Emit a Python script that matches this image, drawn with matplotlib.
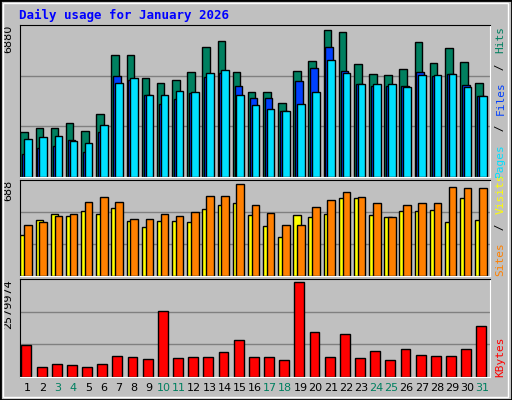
import matplotlib
matplotlib.use("Agg")
import matplotlib.pyplot as plt
from matplotlib.patches import Rectangle
import numpy as np

days = list(range(1, 32))
weekend = [3, 4, 10, 11, 17, 18, 24, 25, 31]

hits = [2050, 2232, 2232, 2460, 2096, 2870, 5513, 5513, 4465, 4237, 4374, 4738, 5877, 6151, 4738, 3827,
        3827, 3371, 4784, 5239, 6652, 6561, 5103, 4647, 4601, 4875, 6105, 5148, 5832, 5194, 4237]
files = [1048, 1321, 1412, 1686, 1139, 2050, 4556, 4374, 3690, 3326, 3508, 3781, 4510, 4693, 4100, 3554,
         3554, 3007, 4328, 4920, 5877, 4784, 4191, 4100, 4100, 4100, 4738, 4556, 4647, 4146, 3645]
pages = [1731, 1822, 1868, 1640, 1549, 2369, 4237, 4465, 3690, 3690, 3873, 3827, 4693, 4829, 3690, 3280,
         3098, 3007, 3326, 3827, 5285, 4693, 4191, 4191, 4191, 4055, 4601, 4601, 4647, 4055, 3645]
sites = [294, 401, 444, 430, 466, 444, 487, 394, 351, 394, 394, 387, 480, 509, 523, 437,
         358, 280, 437, 423, 444, 559, 559, 437, 423, 466, 466, 473, 387, 559, 401]
visits = [366, 387, 430, 444, 530, 566, 530, 409, 409, 444, 430, 459, 573, 573, 659, 509,
          452, 366, 366, 495, 545, 602, 566, 523, 423, 509, 523, 523, 638, 631, 631]
kbytes = [833, 269, 349, 323, 269, 349, 564, 538, 484, 1747, 511, 538, 538, 645, 968, 538,
          538, 457, 2499, 1183, 538, 1129, 511, 672, 457, 726, 591, 564, 564, 726, 1344]
kbytes = [k * 1000 for k in kbytes]

max_hits, max_visits, max_kb = 6880, 688, 2579974

BG = "#c0c0c0"
mono = "DejaVu Sans Mono"
fig = plt.figure(figsize=(5.12, 4.0), dpi=100, facecolor=BG)
fig.patches.append(Rectangle((0, 0), 1, 1, transform=fig.transFigure, fill=False,
                             edgecolor="black", lw=2))
fig.patches.append(Rectangle((0.006, 0.008), 0.986, 0.984, transform=fig.transFigure, fill=False,
                             edgecolor="white", lw=1))
fig.text(0.037, 0.962, "Daily usage for January 2026", color="#0000ff", family=mono,
         weight="bold", fontsize=9, va="center")

x = np.array(days)


def setup(ax, top):
    ax.set_facecolor(BG)
    ax.set_xlim(0.5, 31.5)
    ax.set_ylim(0, top)
    for f in (1 / 3, 2 / 3):
        ax.axhline(top * f, color="#808080", lw=1, zorder=0)
    ax.set_xticks([])
    ax.set_yticks([])
    for s in ax.spines.values():
        s.set_color("black")
    ax.spines["right"].set_color("white")
    ax.spines["bottom"].set_color("white")
    ax.text(-0.025, 1.0, str(top), transform=ax.transAxes, rotation=90, ha="center",
            va="top", fontsize=8, family="DejaVu Sans")


ax1 = fig.add_axes([0.039, 0.5575, 0.918, 0.38])
setup(ax1, max_hits)
kw = dict(width=0.5, align="edge", edgecolor="black", lw=1)
ax1.bar(x - 0.47, hits, color="#008060", **kw)
ax1.bar(x - 0.35, files, color="#0040ff", **kw)
ax1.bar(x - 0.22, pages, color="#00e0ff", **kw)

ax2 = fig.add_axes([0.039, 0.31, 0.918, 0.24])
setup(ax2, max_visits)
ax2.bar(x - 0.47, sites, color="#ffff00", **kw)
ax2.bar(x - 0.22, visits, color="#ff8000", **kw)

ax3 = fig.add_axes([0.039, 0.0575, 0.918, 0.245])
setup(ax3, max_kb)
ax3.bar(x - 0.4, kbytes, width=0.65, align="edge", color="#ff0000", edgecolor="black", lw=1)
ax3.set_xticks(days)
ax3.set_xticklabels([str(d) for d in days], fontsize=8, family="DejaVu Sans")
ax3.tick_params(length=0, pad=4)
for lbl, d in zip(ax3.get_xticklabels(), days):
    if d in weekend:
        lbl.set_color("#008060")


def side_label(ax, parts):
    # stack coloured words upward along the right edge
    y = 0.0
    for txt, col in parts:
        t = ax.text(1.022, y, txt, transform=ax.transAxes, rotation=90, ha="center",
                    va="bottom", color=col, fontsize=8, family=mono)
        y += len(txt) * 0.082 * (0.38 / ax.get_position().height) / 1.0 * 0.62


side_label(ax1, [("Pages", "#00e0ff"), (" / ", "black"), ("Files", "#0040ff"),
                 (" / ", "black"), ("Hits", "#008060")])
side_label(ax2, [("Sites", "#ff8000"), (" / ", "black"), ("Visits", "#ffff00")])
side_label(ax3, [("KBytes", "#ff0000")])

fig.savefig("out.png", dpi=100, facecolor=BG)
